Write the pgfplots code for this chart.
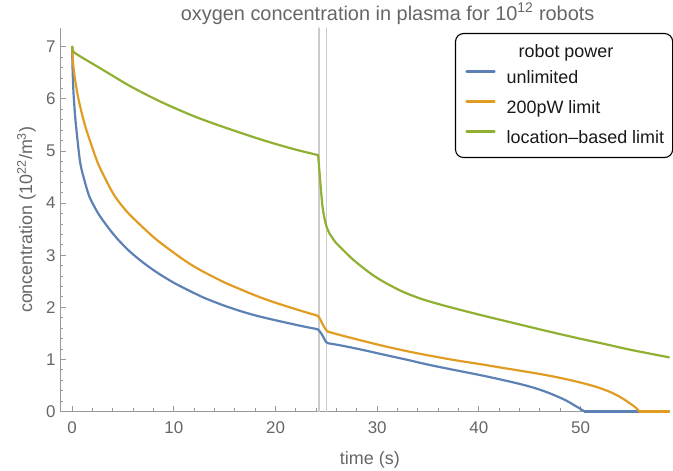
\documentclass[border=0pt]{standalone}
\usepackage{fontspec}
\setmainfont{Liberation Sans}
\usepackage{pgfplots}
\pgfplotsset{compat=1.18}
\definecolor{mblue}{rgb}{0.368417,0.506779,0.709798}
\definecolor{morange}{rgb}{0.880722,0.611041,0.142051}
\definecolor{mgreen}{rgb}{0.560181,0.691569,0.194885}
\definecolor{labgray}{gray}{0.4}
\definecolor{axgray}{gray}{0.6}
\definecolor{vgray}{gray}{0.8}
\begin{document}
\begin{tikzpicture}
\useasboundingbox (-60bp,-59.5bp) rectangle (613bp,411.5bp);
\begin{axis}[
  at={(0,0)}, anchor=south west,
  scale only axis, width=610bp, height=383.5bp,
  xmin=-1.2, xmax=58.8, ymin=0, ymax=7.36,
  axis x line*=bottom, axis y line*=left,
  axis line style={axgray, line width=0.8bp},
  xtick={0,10,...,50}, ytick={0,...,7},
  minor x tick num=4, minor y tick num=4,
  major tick length=6bp, minor tick length=3.5bp,
  tick style={axgray, line width=0.8bp},
  tick align=inside,
  /pgf/number format/assume math mode=true,
  ticklabel style={font=\fontsize{17}{17}\selectfont, text=labgray},
  xticklabel style={anchor=base, yshift=-21.5bp},
  yticklabel style={anchor=east, xshift=-1bp},
  every axis title shift=0pt,
  title={oxygen concentration in plasma for 10\textsuperscript{12} robots},
  title style={at={(axis description cs:0.537,1.0196)}, anchor=base, font=\fontsize{20}{20}\selectfont, text=labgray, inner sep=0pt},
  xlabel={time (s)},
  xlabel style={at={(axis description cs:0.508,-0.1395)}, anchor=base, font=\fontsize{18}{18}\selectfont, text=labgray, inner sep=0pt},
  ylabel={concentration (10\textsuperscript{22}/m\textsuperscript{3})},
  ylabel style={at={(axis description cs:-0.0459,0.5)}, anchor=base, font=\fontsize{18}{18}\selectfont, text=labgray, inner sep=0pt},
  clip=false,
  legend cell align=left,
  legend style={at={(axis description cs:0.6475,0.987)}, anchor=north west, draw=black, line width=1.1bp, rounded corners=8bp, inner xsep=8.5bp, inner ysep=10.5bp, font=\fontsize{18}{18}\selectfont, text=black!90, row sep=13bp, column sep=11bp, nodes={inner sep=0pt, text height=13bp, text depth=4bp}},
  legend image code/.code={\path[draw=none] (0bp,0bp) -- (0bp,7bp); \draw[#1, line width=2.2bp, sharp corners] (2.5bp,7bp) -- (30.5bp,7bp);},
  every axis plot/.append style={line width=2.2bp, line join=round, line cap=round},
]
\addplot[vgray, line width=1.3bp, forget plot] coordinates {(24.27,0) (24.27,7.36)};
\addplot[vgray, line width=1.3bp, forget plot] coordinates {(25.01,0) (25.01,7.36)};
\addlegendimage{empty legend}
\addlegendentry[text depth=0bp]{\hspace*{12bp}robot power}
% unlimited
\addplot[mblue, smooth, tension=0.5] coordinates {
(0,7) (0.02,6.71) (0.05,6.50) (0.1,6.24) (0.15,6.04) (0.3,5.64) (0.5,5.25) (0.8,4.76)
(1.2,4.44) (1.7,4.12) (2.5,3.82) (3.2,3.62) (3.86,3.45) (4.6,3.28) (5.5,3.10) (6.2,2.98)
(7,2.855) (7.8,2.74) (8.6,2.635) (10,2.47) (11.5,2.32) (13,2.18) (14.84,2.04)
(16.5,1.93) (18.1,1.84) (19.8,1.76) (21.4,1.69) (22.8,1.63) (24.12,1.58)};
\addlegendentry{unlimited}
\addplot[mblue, smooth, tension=0.5, forget plot] coordinates {
(24.12,1.58) (24.3,1.55) (24.52,1.49) (24.7,1.43) (24.85,1.37) (25.0,1.33) (25.17,1.31)};
\addplot[mblue, smooth, tension=0.5, forget plot] coordinates {
(25.17,1.31) (26.5,1.265) (28.5,1.185) (30.9,1.08) (33,0.99) (35,0.90) (37.5,0.80)
(40.1,0.70) (42,0.62) (44,0.53) (45.5,0.45) (46.7,0.37) (47.7,0.29) (48.6,0.21)
(49.3,0.13) (49.9,0.06) (50.4,0)};
\addplot[mblue, forget plot] coordinates {(50.4,0) (58.7,0)};
% 200pW
\addplot[morange, smooth, tension=0.5] coordinates {
(0,7) (0.03,6.84) (0.1,6.66) (0.25,6.41) (0.57,6.04) (1,5.68) (1.4,5.40) (2,5.05)
(2.54,4.76) (3.3,4.45) (4.2,4.13) (5.5,3.81) (7.3,3.47) (8.6,3.25) (10.9,2.92)
(12.55,2.72) (14.84,2.49) (16.5,2.35) (18.1,2.22) (19.8,2.10) (21.4,2.0) (22.8,1.915)
(24.12,1.84)};
\addlegendentry{200pW limit}
\addplot[morange, smooth, tension=0.5, forget plot] coordinates {
(24.12,1.84) (24.3,1.80) (24.52,1.72) (24.7,1.65) (24.85,1.60) (25.0,1.56) (25.17,1.53)};
\addplot[morange, smooth, tension=0.5, forget plot] coordinates {
(25.17,1.53) (26.5,1.46) (28.5,1.36) (30.9,1.245) (34,1.115) (37.5,0.99) (40.1,0.91)
(42.1,0.845) (44,0.785) (46,0.72) (48,0.645) (49.9,0.56) (51.5,0.475) (52.6,0.40)
(53.5,0.32) (54.3,0.23) (54.9,0.15) (55.4,0.08) (55.8,0)};
\addplot[morange, forget plot] coordinates {(55.8,0) (58.7,0)};
% location-based
\addplot[mgreen, smooth, tension=0.5] coordinates {
(0,7) (0.05,6.93) (0.2,6.89) (1,6.79) (2,6.675) (3.5,6.5) (5.33,6.285) (7,6.11)
(8.6,5.955) (10,5.83) (12,5.665) (14,5.52) (16,5.385) (18,5.255) (20,5.135)
(22,5.025) (24.19,4.92)};
\addlegendentry{location\textendash based limit}
\addplot[mgreen, smooth, tension=0.5, forget plot] coordinates {
(24.19,4.92) (24.33,4.58) (24.46,4.27) (24.62,3.94) (24.78,3.74) (25.0,3.56)
(25.27,3.43) (25.6,3.33) (25.93,3.24) (26.8,3.07) (27.6,2.92) (28.6,2.76)
(29.7,2.60) (30.9,2.46) (32.5,2.30) (34.2,2.17) (35.8,2.075) (37.5,1.985) (40.1,1.855)
(42.1,1.76) (44,1.67) (47,1.53) (49.9,1.40) (52.5,1.29) (54.9,1.185) (58.7,1.04)};
\end{axis}
\end{tikzpicture}
\end{document}
